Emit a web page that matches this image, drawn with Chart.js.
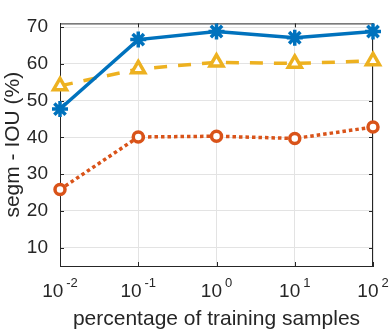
<!DOCTYPE html>
<html>
<head>
<meta charset="utf-8">
<script src="https://cdn.jsdelivr.net/npm/chart.js@4.4.0/dist/chart.umd.min.js"></script>
<style>
  html, body { margin: 0; padding: 0; background: #fff; }
  canvas { display: block; }
</style>
</head>
<body>
<canvas id="chart" width="390" height="332"></canvas>
<script>
// percentage of training samples (log axis)
const samplePct = [0.01, 0.1, 1, 10, 100]
const iouStar = [47.7, 66.6, 68.8, 67.1, 68.8]
const iouCircle = [25.8, 40.1, 40.3, 39.7, 42.8]
const iouTriangle = [54.0, 58.6, 60.4, 60.1, 60.8]
const xTickValues = [0.01, 0.1, 1, 10, 100]
const xTickExps = ['-2', '-1', '0', '1', '2']
const yTickValues = [10, 20, 30, 40, 50, 60, 70]

const textColor = '#262626'
const gridColor = '#e3e3e3'
const fontFamily = "'Liberation Sans', Arial, Helvetica, sans-serif"

function toPoints(ys) {
  return samplePct.map((x, i) => ({ x: x, y: ys[i] }))
}

// box edges, inward tick marks and the 10^n labels
const boxPlugin = {
  id: 'box',
  beforeDatasetsDraw(chart) {
    const { ctx, chartArea: a, scales } = chart
    ctx.save()
    ctx.strokeStyle = textColor
    ctx.lineWidth = 1
    ctx.beginPath()
    ctx.moveTo(a.left, a.top + 0.5)
    ctx.lineTo(a.right, a.top + 0.5)
    ctx.moveTo(a.right - 0.5, a.top)
    ctx.lineTo(a.right - 0.5, a.bottom)
    yTickValues.forEach(v => {
      const y = Math.round(scales.y.getPixelForValue(v)) + 0.5
      ctx.moveTo(a.left, y); ctx.lineTo(a.left + 4, y)
      ctx.moveTo(a.right, y); ctx.lineTo(a.right - 4, y)
    })
    xTickValues.forEach(v => {
      const x = Math.round(scales.x.getPixelForValue(v)) + 0.5
      ctx.moveTo(x, a.bottom); ctx.lineTo(x, a.bottom - 4)
      ctx.moveTo(x, a.top); ctx.lineTo(x, a.top + 4)
    })
    ctx.stroke()
    ctx.restore()
  },
  afterDraw(chart) {
    const { ctx, chartArea: a, scales } = chart
    ctx.save()
    ctx.fillStyle = textColor
    ctx.textBaseline = 'alphabetic'
    ctx.textAlign = 'left'
    const baseFont = '19px ' + fontFamily
    const expFont = '13px ' + fontFamily
    xTickValues.forEach((v, i) => {
      const px = scales.x.getPixelForValue(v)
      ctx.font = baseFont
      const w1 = ctx.measureText('10').width
      ctx.font = expFont
      const w2 = ctx.measureText(xTickExps[i]).width
      const gap = 3
      const start = px - (w1 + gap + w2) / 2
      ctx.font = baseFont
      ctx.fillText('10', start, a.bottom + 31)
      ctx.font = expFont
      ctx.fillText(xTickExps[i], start + w1 + gap, a.bottom + 21)
    })
    ctx.restore()
  }
}

new Chart(document.getElementById('chart'), {
  type: 'line',
  data: {
    datasets: [
      {
        data: toPoints(iouStar),
        borderColor: '#0072BD',
        borderWidth: 3.5,
        pointStyle: 'star',
        pointRadius: 8,
        pointBorderWidth: 3.5,
        pointBorderColor: '#0072BD',
        pointBackgroundColor: '#0072BD',
        clip: false
      },
      {
        data: toPoints(iouTriangle),
        borderColor: '#EDB120',
        borderWidth: 3.5,
        borderDash: [13, 11],
        pointStyle: 'triangle',
        pointRadius: 7.5,
        pointBorderWidth: 3.5,
        pointBorderColor: '#EDB120',
        pointBackgroundColor: '#ffffff',
        clip: false
      },
      {
        data: toPoints(iouCircle),
        borderColor: '#D95319',
        borderWidth: 3.5,
        borderDash: [3.5, 3],
        pointStyle: 'circle',
        pointRadius: 5,
        pointBorderWidth: 3.5,
        pointBorderColor: '#D95319',
        pointBackgroundColor: '#ffffff',
        clip: false
      }
    ]
  },
  options: {
    responsive: false,
    animation: false,
    devicePixelRatio: 1,
    layout: {
      padding: { top: 4, right: 17, left: 0, bottom: 0 }
    },
    plugins: {
      legend: { display: false },
      tooltip: { enabled: false }
    },
    scales: {
      x: {
        type: 'logarithmic',
        min: 0.01,
        max: 100,
        afterBuildTicks: s => { s.ticks = xTickValues.map(v => ({ value: v })) },
        afterFit: s => { s.height = 66 },
        ticks: { display: false },
        grid: { color: gridColor, drawTicks: false },
        border: { color: textColor },
        title: {
          display: true,
          text: 'percentage of training samples',
          color: textColor,
          font: { size: 21, family: fontFamily },
          padding: 0
        }
      },
      y: {
        min: 5,
        max: 71,
        afterBuildTicks: s => { s.ticks = yTickValues.map(v => ({ value: v })) },
        afterFit: s => { s.width = 60 },
        ticks: {
          color: textColor,
          padding: 12,
          font: { size: 19, family: fontFamily }
        },
        grid: { color: gridColor, drawTicks: false },
        border: { color: textColor },
        title: {
          display: true,
          text: 'segm - IOU (%)',
          color: textColor,
          font: { size: 21, family: fontFamily },
          padding: { top: 1, bottom: 0 }
        }
      }
    }
  },
  plugins: [boxPlugin]
})
</script>
</body>
</html>
